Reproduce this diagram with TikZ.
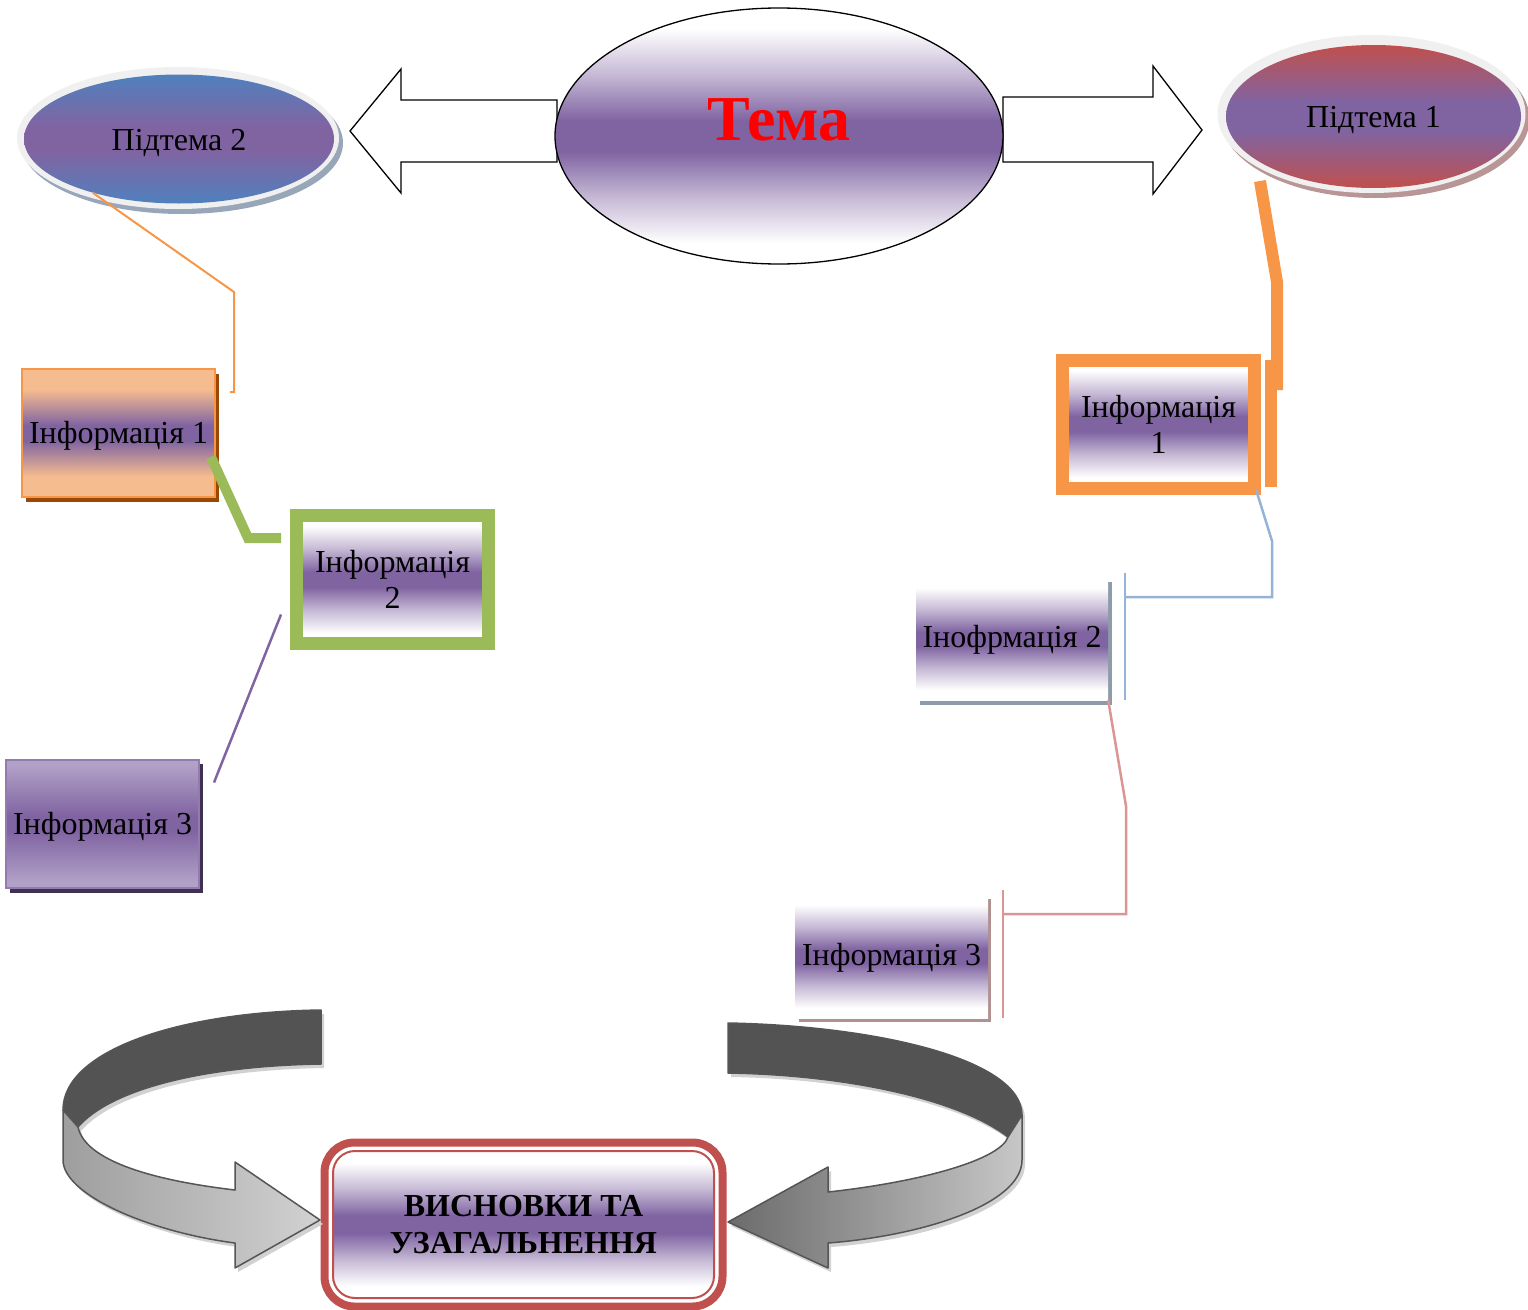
\documentclass[tikz,border=0pt]{standalone}
\usepackage{fontspec}
\setmainfont{Liberation Serif}
\usetikzlibrary{shapes.geometric,calc}
\definecolor{pur}{HTML}{8064A2}
\definecolor{blu}{HTML}{4F81BD}
\definecolor{rd}{HTML}{C0504D}
\definecolor{orl}{HTML}{F5BC8F}
\definecolor{orb}{HTML}{F79646}
\definecolor{lav}{HTML}{B2A1C7}
\definecolor{grn}{HTML}{9BBB59}
\definecolor{lblue}{HTML}{95B3D7}
\definecolor{pinkc}{HTML}{D99694}
\definecolor{ringc}{HTML}{F0F0F0}
\definecolor{shblue}{HTML}{98A6BA}
\definecolor{shred}{HTML}{B89696}
\definecolor{shor}{HTML}{984807}
\definecolor{shpur}{HTML}{3F3151}
\definecolor{shgrey}{HTML}{8D9BAA}
\definecolor{shrose}{HTML}{B09090}
\definecolor{darkband}{HTML}{535353}
\definecolor{bandline}{HTML}{555555}
\pgfdeclareverticalshading{wpw}{100bp}{color(0bp)=(white); color(29bp)=(white); color(38bp)=(pur!45!white); color(47bp)=(pur); color(53bp)=(pur); color(62bp)=(pur!45!white); color(71bp)=(white); color(100bp)=(white)}
\pgfdeclareverticalshading{bpb}{100bp}{color(0bp)=(blu); color(25bp)=(blu); color(45bp)=(pur); color(55bp)=(pur); color(75bp)=(blu); color(100bp)=(blu)}
\pgfdeclareverticalshading{rpr}{100bp}{color(0bp)=(rd); color(25bp)=(rd); color(45bp)=(pur); color(55bp)=(pur); color(75bp)=(rd); color(100bp)=(rd)}
\pgfdeclareverticalshading{opo}{100bp}{color(0bp)=(orl); color(33bp)=(orl); color(47bp)=(pur); color(53bp)=(pur); color(67bp)=(orl); color(100bp)=(orl)}
\pgfdeclareverticalshading{lpl}{100bp}{color(0bp)=(lav); color(27bp)=(lav); color(47bp)=(pur); color(53bp)=(pur); color(73bp)=(lav); color(100bp)=(lav)}
\begin{document}
\begin{tikzpicture}[x=1pt,y=-1pt,
  infobox/.style={rectangle, inner sep=0pt, align=center, font=\fontsize{32}{36}\selectfont},
  lowtext/.style={text height=23pt, text depth=2pt},
  midtext/.style={text height=21pt, text depth=4pt},
  subell/.style={ellipse, inner sep=0pt, font=\fontsize{32}{32}\selectfont, text height=22pt, text depth=0pt},
  blockarrow/.style={draw=black, line width=1.3pt, fill=white, line join=miter},
  bandtop/.style={fill=darkband, draw=bandline, line width=1.5pt, line join=round},
  bandshadow/.style={fill=black!18}]
\useasboundingbox (0,0) rectangle (1528,1309);

% ---- block arrows from the theme
\draw[blockarrow] (557,100) -- (401,100) -- (401,69) -- (350,131) -- (401,193) -- (401,162) -- (557,162) -- cycle;
\draw[blockarrow] (1003,97) -- (1153,97) -- (1153,66) -- (1202,130) -- (1153,194) -- (1153,162) -- (1003,162) -- cycle;

% ---- theme
\node[ellipse, draw=black, line width=1.3pt, shading=wpw, minimum width=448pt, minimum height=256pt, inner sep=0pt] (tema) at (779,136)
  {\raisebox{-4pt}[0pt][0pt]{\fontsize{64}{64}\selectfont\bfseries\color{red}Тема}};

% ---- sub-theme 2
\fill[shblue] (182,143) ellipse [x radius=161, y radius=71];
\fill[ringc] (178,138) ellipse [x radius=161, y radius=71];
\node[subell, shading=bpb, minimum width=310pt, minimum height=129pt] (sub2) at (179,139) {Підтема 2};

% ---- sub-theme 1
\fill[shred] (1375.5,119) ellipse [x radius=154, y radius=79];
\fill[ringc] (1371.5,114) ellipse [x radius=154, y radius=79];
\node[subell, shading=rpr, minimum width=295pt, minimum height=143pt] (sub1) at (1373.5,116.5) {Підтема 1};

% ---- left column
\fill[shor] (26,374) rectangle (219,502);
\node[infobox, lowtext, draw=orb, line width=2pt, shading=opo, minimum width=193pt, minimum height=128pt] (i1L) at (118.5,433) {Інформація 1};

\node[infobox, draw=grn, line width=13pt, shading=wpw, minimum width=192pt, minimum height=128pt] (i2L) at (392.5,579.5) {Інформація\\2};

\fill[shpur] (10,764) rectangle (203,893);
\node[infobox, lowtext, draw=pur!85!white, line width=2pt, shading=lpl, minimum width=193pt, minimum height=128pt] (i3L) at (102.5,823.5) {Інформація 3};

% ---- right column
\node[infobox, draw=orb, line width=13pt, shading=wpw, minimum width=192pt, minimum height=128pt] (i1R) at (1158.5,424) {Інформація\\1};

\fill[shgrey] (920,582) rectangle (1112,705);
\node[infobox, midtext, shading=wpw, minimum width=192pt, minimum height=122pt] (i2R) at (1012,639) {Інофрмація 2};

\fill[shrose] (799,899) rectangle (991,1022);
\node[infobox, midtext, shading=wpw, minimum width=193pt, minimum height=123pt] (i3R) at (891.5,956.5) {Інформація 3};

% ---- connectors, left
\coordinate (o2end) at (230,392);
\draw[orb, line width=2pt] (sub2.212) -- (234,292) -- (234,392) -- (o2end);
\draw[grn, line width=10pt, line join=miter] ([shift={(-5,24)}]i1L.east) -- (248,538) -- ([shift={(-9,-41.5)}]i2L.west);
\draw[pur, line width=2.5pt] ([shift={(-9,35)}]i2L.west) -- ([shift={(14,24)}]i3L.north east);

% ---- connectors, right
\draw[orb, line width=12pt, line join=miter] ([shift={(-113.5,64.5)}]sub1.center) -- (1277,282) -- (1277,390);
\draw[orb, line width=12pt] ([shift={(9.5,-64)}]i1R.east) -- ([shift={(9.5,63)}]i1R.east);
\draw[lblue, line width=2.5pt] ([shift={(-5,-5)}]i1R.south east) -- (1272,541) -- (1272,597) -- (1125,597);
\draw[lblue, line width=2.5pt] (1125,573) -- (1125,700);
\draw[pinkc, line width=2.5pt] (i2R.south east) -- (1126,806) -- (1126,914) -- (1003,914);
\draw[pinkc, line width=2.5pt] (1003,890) -- (1003,1018);

% ---- conclusion box
\node[rectangle, rounded corners=22pt, draw=rd, line width=2pt, shading=wpw, minimum width=381pt, minimum height=147pt, inner sep=0pt, align=center, font=\fontsize{32}{37}\selectfont\bfseries] (concl) at (523.5,1224.5) {ВИСНОВКИ ТА\\УЗАГАЛЬНЕННЯ};
\draw[rd, line width=8pt, rounded corners=30pt] ([shift={(-7.5,7.5)}]concl.south west) rectangle ([shift={(7.5,-7.5)}]concl.north east);

% ---- curved arrows (shadows)
\begin{scope}[shift={(3,4)}]
\fill[bandshadow] (321,1010) .. controls (180,1012) and (63,1050) .. (63,1110) -- (63,1160) .. controls (63,1195) and (150,1232) .. (235,1243) -- (235,1268) -- (320,1220) -- (235,1162) -- (235,1190) .. controls (150,1180) and (85,1160) .. (78,1127) .. controls (110,1090) and (200,1066) .. (321,1064) -- cycle;
\fill[bandshadow] (728,1023) .. controls (880,1026) and (1022,1060) .. (1022,1115) -- (1022,1160) .. controls (1022,1205) and (920,1236) .. (828,1243) -- (828,1268) -- (728,1222) -- (828,1167) -- (828,1192) .. controls (920,1182) and (1000,1160) .. (1008,1137) .. controls (960,1100) and (850,1075) .. (728,1073) -- cycle;
\end{scope}

% ---- left curved arrow
\draw[bandtop] (321,1010) .. controls (180,1012) and (63,1050) .. (63,1110) -- (78,1127) .. controls (110,1090) and (200,1066) .. (321,1064) -- cycle;
\draw[draw=bandline, line width=1.5pt, line join=round, left color=black!38, right color=black!18] (63,1110) -- (63,1160) .. controls (63,1195) and (150,1232) .. (235,1243) -- (235,1268) -- (320,1220) -- (235,1162) -- (235,1190) .. controls (150,1180) and (85,1160) .. (78,1127) -- cycle;

% ---- right curved arrow
\draw[bandtop] (728,1023) .. controls (880,1026) and (1022,1060) .. (1022,1115) -- (1008,1137) .. controls (960,1100) and (850,1075) .. (728,1073) -- cycle;
\draw[draw=bandline, line width=1.5pt, line join=round, left color=black!58, right color=black!22] (1022,1115) -- (1022,1160) .. controls (1022,1205) and (920,1236) .. (828,1243) -- (828,1268) -- (728,1222) -- (828,1167) -- (828,1192) .. controls (920,1182) and (1000,1160) .. (1008,1137) -- cycle;
\end{tikzpicture}
\end{document}
